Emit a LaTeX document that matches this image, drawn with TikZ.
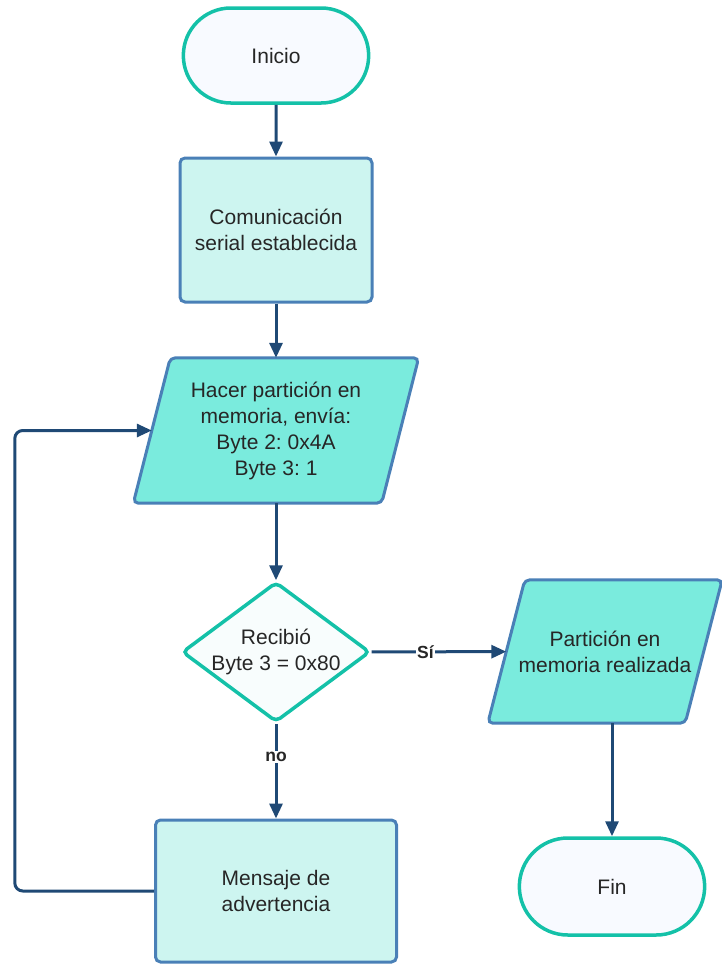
\documentclass[tikz,border=0pt]{standalone}
\usepackage{fontspec}
\setmainfont{Liberation Sans}
\frenchspacing
\usetikzlibrary{shapes.geometric, shapes.misc, arrows.meta, positioning, backgrounds}
\definecolor{teal}{RGB}{20, 193, 168}
\definecolor{steel}{RGB}{74, 128, 183}
\definecolor{navy}{RGB}{31, 73, 117}
\definecolor{pale}{RGB}{205, 245, 240}
\definecolor{aqua}{RGB}{122, 235, 221}
\definecolor{snow}{RGB}{248, 250, 255}
\definecolor{ink}{RGB}{38, 38, 38}
\tikzset{
    txt/.style={align=center, text=ink, font=\fontsize{21}{26}\selectfont},
    terminal/.style={rounded rectangle, draw=teal, line width=3.5pt, fill=snow, txt, minimum width=192pt, minimum height=95pt},
    process/.style={rectangle, rounded corners=5pt, draw=steel, line width=3pt, fill=pale, txt},
    io/.style={rectangle, txt},
    iobox/.style={rounded corners=5pt, draw=steel, line width=3pt, fill=aqua},
    decision/.style={diamond, aspect=1.34, inner sep=-6pt, rounded corners=5pt, draw=teal, line width=3.5pt, fill=snow!60!pale!30, txt},
    arr/.style={-{Triangle[length=15pt, width=13pt]}, line width=3pt, navy},
    lbl/.style={fill=white, inner sep=1pt, text=ink, font=\fontsize{17.5}{20}\selectfont\bfseries}
}
\begin{document}
\begin{tikzpicture}[x=1pt, y=-1pt]
    \useasboundingbox (0,0) rectangle (721,964);
    \node[terminal] (inicio) at (276,55.5) {Inicio};
    \node[process, minimum width=192pt, minimum height=144pt] (com) at (276,230) {Comunicación\\serial establecida};
    \node[io, minimum width=248pt, minimum height=145pt] (part) at (276,430.5) {Hacer partición en\\memoria, envía:\\Byte 2: 0x4A\\Byte 3: 1};
    \node[decision, minimum width=188pt, minimum height=140pt] (rec) at (276,652) {Recibió\\Byte 3 = 0x80};
    \node[io, minimum width=197pt, minimum height=143pt] (real) at (605,651.5) {Partición en\\memoria realizada};
    \node[process, minimum width=241pt, minimum height=142pt] (msg) at (276,891) {Mensaje de\\advertencia};
    \node[terminal, minimum height=97pt] (fin) at (612,886.5) {Fin};
    % slanted data boxes behind their text
    \begin{scope}[on background layer]
        \foreach \n in {part, real}
            \draw[iobox] ([xshift=18.5pt]\n.north west) -- ([xshift=18.5pt]\n.north east) -- ([xshift=-18.5pt]\n.south east) -- ([xshift=-18.5pt]\n.south west) -- cycle;
    \end{scope}
    \draw[arr] (inicio)--(com);
    \draw[arr] (com)--(part);
    \draw[arr] (part)--(rec);
    \draw[arr] (rec) -- node[lbl, pos=0.35] {no} (msg);
    \draw[arr] (rec) -- node[lbl, pos=0.4] {Sí} (real);
    \draw[arr] (real.south -| fin.north) -- (fin.north);
    \draw[arr, rounded corners=8pt] (msg.west) -| ([xshift=-137pt]part.west) -- (part.west);
\end{tikzpicture}
\end{document}
